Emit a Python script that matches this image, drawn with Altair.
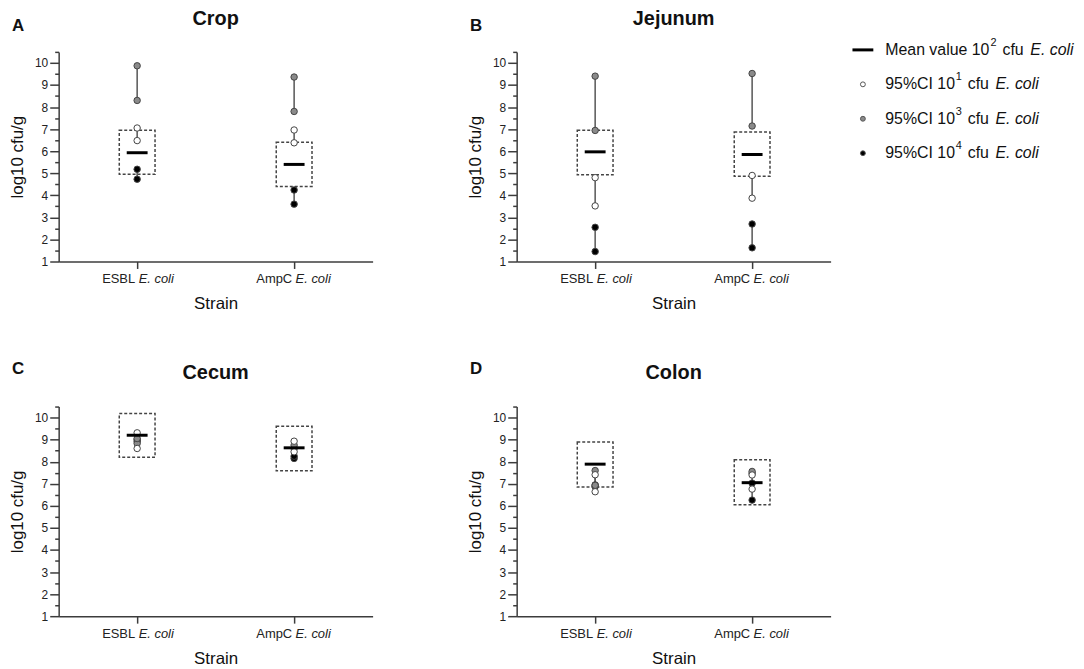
import altair as alt
import pandas as pd

FONT = "Liberation Sans"

# ---------------- data ----------------
panels = ["Crop", "Jejunum", "Cecum", "Colon"]
letters = ["A", "B", "C", "D"]
strains = ["ESBL", "AmpC"]
strain_prefix = ["ESBL", "AmpC"]
species = ["E. coli", "E. coli"]

mean_esbl = [5.93, 5.97, 9.20, 7.89]
mean_ampc = [5.40, 5.85, 8.63, 7.05]

box_lo_esbl = [4.95, 4.93, 8.20, 6.85]
box_hi_esbl = [6.95, 6.95, 10.18, 8.89]
box_lo_ampc = [4.40, 4.86, 7.59, 6.05]
box_hi_ampc = [6.41, 6.87, 9.61, 8.09]

# 95%CI 10^1 cfu (white)
ci1_lo_esbl = [6.48, 3.52, 8.60, 6.64]
ci1_hi_esbl = [7.05, 4.80, 9.31, 7.41]
ci1_lo_ampc = [6.38, 3.87, 8.45, 6.76]
ci1_hi_ampc = [6.96, 4.90, 8.93, 7.40]
# 95%CI 10^3 cfu (grey)
ci3_lo_esbl = [8.30, 6.94, 8.83, 6.93]
ci3_hi_esbl = [9.87, 9.40, 9.05, 7.60]
ci3_lo_ampc = [7.80, 7.14, 8.60, 7.48]
ci3_hi_ampc = [9.36, 9.52, 8.75, 7.56]
# 95%CI 10^4 cfu (black)
ci4_lo_esbl = [4.73, 1.45, 8.92, 6.88]
ci4_hi_esbl = [5.18, 2.55, 9.00, 6.95]
ci4_lo_ampc = [3.60, 1.62, 8.15, 6.26]
ci4_hi_ampc = [4.24, 2.70, 8.25, 7.03]

groups = ["10^4", "10^3", "10^1"]          # draw order: black, grey, white
group_fill = ["#000000", "#8a8a8a", "#ffffff"]

leg_idx = [0, 1, 2, 3]
leg_prefix = ["Mean value 10", "95%CI 10", "95%CI 10", "95%CI 10"]
leg_sup = ["2", "1", "3", "4"]
leg_group = ["mean", "10^1", "10^3", "10^4"]

y_ticks = [1 + 0.5 * k for k in range(20)]

# ---------------- tables ----------------
ci_table = {
    ("ESBL", "10^1"): (ci1_lo_esbl, ci1_hi_esbl),
    ("AmpC", "10^1"): (ci1_lo_ampc, ci1_hi_ampc),
    ("ESBL", "10^3"): (ci3_lo_esbl, ci3_hi_esbl),
    ("AmpC", "10^3"): (ci3_lo_ampc, ci3_hi_ampc),
    ("ESBL", "10^4"): (ci4_lo_esbl, ci4_hi_esbl),
    ("AmpC", "10^4"): (ci4_lo_ampc, ci4_hi_ampc),
}
ci_rows, pt_rows, sum_rows = [], [], []
for i, p in enumerate(panels):
    for s, m, bl, bh in [("ESBL", mean_esbl, box_lo_esbl, box_hi_esbl),
                         ("AmpC", mean_ampc, box_lo_ampc, box_hi_ampc)]:
        sum_rows.append(dict(panel=p, strain=s, mean=m[i], lo=bl[i], hi=bh[i]))
    for gi, g in enumerate(groups):
        for s in strains:
            lo, hi = ci_table[(s, g)]
            ci_rows.append(dict(panel=p, strain=s, group=g, lo=lo[i], hi=hi[i]))
            pt_rows.append(dict(panel=p, strain=s, group=g, v=lo[i], ord=gi))
            pt_rows.append(dict(panel=p, strain=s, group=g, v=hi[i], ord=gi))
df_ci = pd.DataFrame(ci_rows)
df_pt = pd.DataFrame(pt_rows)
df_sum = pd.DataFrame(sum_rows)
df_lab = pd.DataFrame(dict(strain=strains, prefix=strain_prefix, species=species))
df_leg = pd.DataFrame(dict(idx=leg_idx, prefix=leg_prefix, sup=leg_sup, group=leg_group,
                           cfu=["cfu"] * 4, species=["E. coli"] * 4))

# ---------------- layout ----------------
W, H = 316, 211
BOX_W, MEAN_W = 36, 21
title_y = {"A": -27, "B": -27, "C": -28, "D": -28}
letter_y = {"A": -21, "B": -21, "C": -33, "D": -33}

FILL = alt.Fill("group:N", scale=alt.Scale(domain=groups, range=group_fill), legend=None)

y_axis = alt.Axis(
    title="log10 cfu/g", values=y_ticks,
    labelExpr="datum.value % 1 == 0 ? format(datum.value, 'd') : ''",
    tickSize={"condition": {"test": "datum.value % 1 == 0", "value": 9}, "value": 4},
    labelPadding=2, titlePadding=8, grid=False,
)


def Y(field):
    return alt.Y(f"{field}:Q", scale=alt.Scale(domain=[1, 10.5], nice=False, zero=False), axis=y_axis)


X = alt.X("strain:N", sort=strains,
          scale=alt.Scale(domain=strains, paddingInner=0, paddingOuter=0),
          axis=alt.Axis(labels=False, title="Strain", tickSize=7, titlePadding=27, grid=False))


def make_panel(i):
    name, letter = panels[i], letters[i]
    ci = df_ci[df_ci.panel == name]
    pt = df_pt[df_pt.panel == name]
    sm = df_sum[df_sum.panel == name]

    box = alt.Chart(sm).mark_bar(width=BOX_W, fillOpacity=0, stroke="#444", strokeWidth=1.5,
                                 strokeDash=[3, 2]).encode(x=X, y=Y("lo"), y2="hi:Q")
    rules = alt.Chart(ci).mark_rule(color="#555", strokeWidth=1.5).encode(x=X, y=Y("lo"), y2="hi:Q")
    pts = alt.Chart(pt).mark_circle(size=42, opacity=1, stroke="#444", strokeWidth=1).encode(
        x=X, y=Y("v"), fill=FILL, order=alt.Order("ord:Q"))
    mean = alt.Chart(sm).mark_tick(size=MEAN_W, thickness=3, color="#000", opacity=1).encode(
        x=X, y=Y("mean"))
    lab1 = alt.Chart(df_lab).mark_text(align="right", baseline="middle", dx=-2, fontSize=13,
                                       font=FONT, color="#222").encode(
        x=X, y=alt.value(H + 18), text="prefix:N")
    lab2 = alt.Chart(df_lab).mark_text(align="left", baseline="middle", dx=1.5, fontSize=13,
                                       font=FONT, fontStyle="italic", color="#222").encode(
        x=X, y=alt.value(H + 18), text="species:N")
    tdf = pd.DataFrame(dict(panel=[name], letter=[letter]))
    ttl = alt.Chart(tdf).mark_text(align="center", baseline="alphabetic", fontSize=20,
                                   fontWeight="bold", font=FONT, color="#111").encode(
        x=alt.value(W / 2), y=alt.value(title_y[letter]), text="panel:N")
    let = alt.Chart(tdf).mark_text(align="left", baseline="alphabetic", fontSize=17,
                                   fontWeight="bold", font=FONT, color="#111").encode(
        x=alt.value(-47), y=alt.value(letter_y[letter]), text="letter:N")
    return alt.layer(box, rules, pts, mean, lab1, lab2, ttl, let).properties(width=W, height=H)


pA, pB, pC, pD = [make_panel(i) for i in range(4)]

# ---------------- legend ----------------
LY = alt.Y("idx:Q", scale=alt.Scale(domain=[0, 3], range=[-2, 102]), axis=None)
leg0 = df_leg[df_leg.idx == 0]
leg1 = df_leg[df_leg.idx > 0]
leg_line = alt.Chart(leg0).mark_rule(color="#000", strokeWidth=3).encode(
    x=alt.value(11), x2=alt.value(32), y=LY)
leg_pts = alt.Chart(leg1).mark_circle(size=24, opacity=1, stroke="#555", strokeWidth=1).encode(
    x=alt.value(21.5), y=LY, fill=FILL)
txt = dict(baseline="middle", font=FONT, color="#111", align="left")


def leg_text(df, field, xpos, **kw):
    return alt.Chart(df).mark_text(**txt, **kw).encode(x=alt.value(xpos), y=LY, text=f"{field}:N")


leg_layers = [leg_line, leg_pts, leg_text(df_leg, "prefix", 44, fontSize=16)]
for df, off in [(leg0, 0), (leg1, -35)]:
    leg_layers += [
        leg_text(df, "sup", 150 + off, fontSize=11, dy=-7),
        leg_text(df, "cfu", 162 + off, fontSize=16),
        leg_text(df, "species", 190 + off, fontSize=16, fontStyle="italic"),
    ]
legend = alt.layer(*leg_layers).properties(width=235, height=105)

top = alt.hconcat(alt.hconcat(pA, pB, spacing=93), legend, spacing=9)
bottom = alt.hconcat(pC, pD, spacing=93)

chart = alt.vconcat(top, bottom, spacing=46).properties(
    padding={"left": 0, "top": -2, "right": 0, "bottom": 0}
).configure_view(stroke="transparent").configure_axis(
    domainColor="#3c3c3c", domainWidth=1.5, tickColor="#3c3c3c", tickWidth=1.5,
    labelFont=FONT, labelFontSize=12, labelColor="#222",
    titleFont=FONT, titleFontSize=17, titleFontWeight="normal", titleColor="#111",
)

chart.save("out.html", embed_options={"renderer": "svg", "actions": False})
